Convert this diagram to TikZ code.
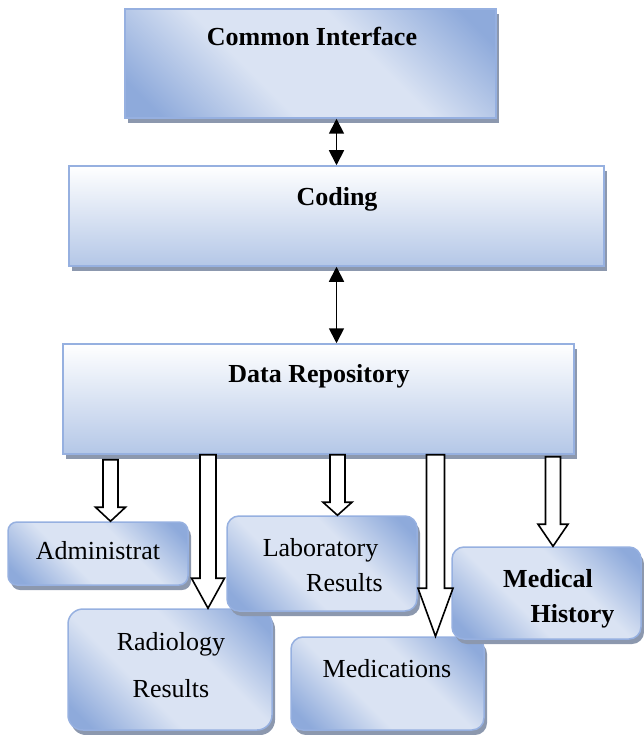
\documentclass[tikz,border=0pt]{standalone}
\usepackage{fontspec}
\setmainfont{Liberation Serif}
\usetikzlibrary{arrows.meta,shadows,calc}

\definecolor{boxdark}{RGB}{142,170,219}
\definecolor{boxlight}{RGB}{218,227,243}
\definecolor{boxline}{RGB}{150,176,224}
\definecolor{codbot}{RGB}{180,199,231}
\definecolor{shadowc}{RGB}{140,152,174}

\pgfdeclareverticalshading{glossy}{100bp}{color(0bp)=(boxdark); color(20bp)=(boxdark);
  color(40bp)=(boxlight); color(60bp)=(boxlight); color(80bp)=(boxdark); color(100bp)=(boxdark)}

\tikzset{
  plainbox/.style={draw=boxline, line width=1.5pt, inner sep=0pt,
    drop shadow={shadow xshift=3pt, shadow yshift=-5pt, fill=shadowc, opacity=1}},
  flatbox/.style={plainbox, top color=white, middle color=codbot!45!white, bottom color=codbot},
  glossbox/.style={plainbox, shading=glossy, shading angle=-45},
  roundbox/.style={glossbox, rounded corners=12pt},
  headtext/.style={anchor=base, font=\fontsize{26}{31}\selectfont\bfseries},
  itemtext/.style={anchor=base, font=\fontsize{26}{31}\selectfont},
  biarrow/.style={{Triangle[length=15pt,width=15pt]}-{Triangle[length=15pt,width=15pt]}, line width=1.8pt},
  hollow/.style={draw=black, fill=white, line width=1.6pt, line join=miter}
}

\newcommand{\hollowarrow}[7]{%
  \draw[hollow] let \p1=(#2.south), \p2=(#3.north) in
    ({#1pt-#6pt},{\y1-#4pt}) -- ({#1pt+#6pt},{\y1-#4pt}) -- ({#1pt+#6pt},{\y2+#5pt})
    -- ({#1pt+#7pt},{\y2+#5pt}) -- (#1pt,\y2) -- ({#1pt-#7pt},{\y2+#5pt})
    -- ({#1pt-#6pt},{\y2+#5pt}) -- cycle;}

\begin{document}
\begin{tikzpicture}[x=1pt,y=-1pt]
  \useasboundingbox (0,0) rectangle (643,735);

  \node[glossbox, minimum width=371pt, minimum height=109pt] (ci) at (310.5,63.5) {};
  \node[flatbox, minimum width=535pt, minimum height=100pt] (coding) at (336.5,216) {};
  \node[flatbox, minimum width=511pt, minimum height=110pt] (repo) at (318.5,399) {};

  \node[roundbox, minimum width=204pt, minimum height=121pt, rounded corners=15pt] (rad) at (170,669.5) {};
  \node[roundbox, minimum width=193pt, minimum height=93pt] (med) at (387.5,683.5) {};
  \node[roundbox, minimum width=180pt, minimum height=63pt, rounded corners=9pt] (adm) at (98,553.5) {};
  \node[roundbox, minimum width=190pt, minimum height=95pt] (lab) at (322,563.5) {};
  \node[roundbox, minimum width=189pt, minimum height=92pt] (hist) at (546.5,593) {};

  \node[headtext] (ci-t) at (312,46) {Common Interface};
  \node[headtext] (coding-t) at (337,205) {Coding};
  \node[headtext] (repo-t) at (319,382) {Data Repository};
  \node[itemtext] (adm-t) at (98,559) {Administrat};
  \node[itemtext] (lab-t1) at (320.5,556) {Laboratory};
  \node[itemtext] (lab-t2) at (344.5,591) {Results};
  \node[itemtext] (rad-t1) at (171,650) {Radiology};
  \node[itemtext] (rad-t2) at (171,697) {Results};
  \node[itemtext] (med-t) at (387,677) {Medications};
  \node[headtext] (hist-t1) at (548,587) {Medical};
  \node[headtext] (hist-t2) at (572.5,622) {History};

  \draw[biarrow] (ci.south -| coding.north) -- (coding.north);
  \draw[biarrow] (coding.south) -- (repo.north -| coding.south);

  \hollowarrow{110.5}{repo}{adm}{5}{14}{7.5}{15}
  \hollowarrow{208}{repo}{rad}{0}{30}{8}{16.5}
  \hollowarrow{337.5}{repo}{lab}{0}{13}{7.5}{14.5}
  \hollowarrow{435.5}{repo}{med}{0}{48}{9}{17.5}
  \hollowarrow{553}{repo}{hist}{2}{22}{7.5}{15}
\end{tikzpicture}
\end{document}
